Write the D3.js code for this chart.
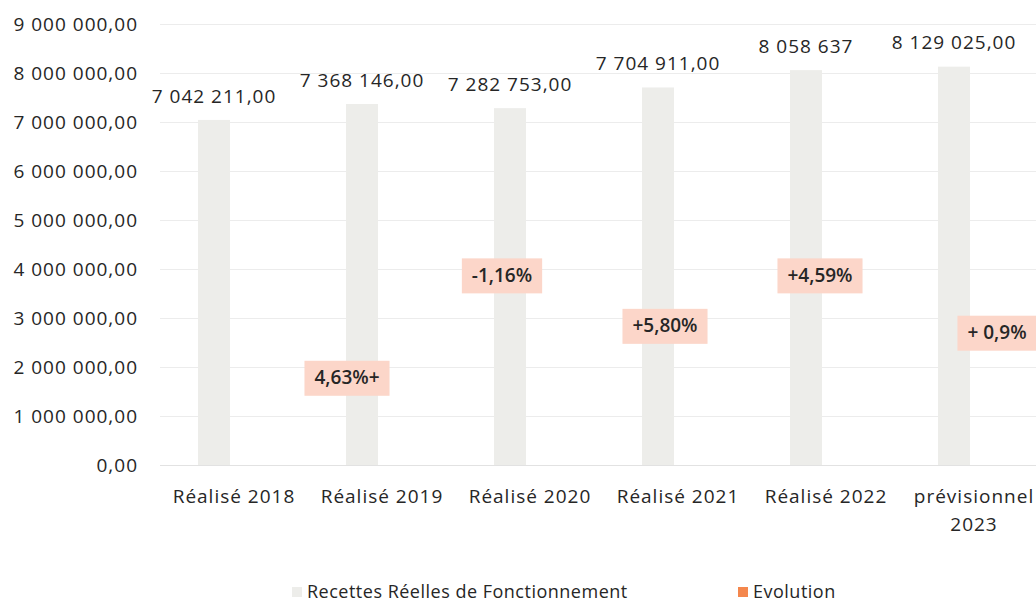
<!DOCTYPE html>
<html lang="fr">
<head>
    <meta charset="UTF-8">
    <title>Recettes Réelles de Fonctionnement</title>
    <script src="https://d3js.org/d3.v7.min.js"></script>
    <style>
        body { margin: 0; background: #fff; font-family: 'Open Sans', sans-serif; }
        text { fill: #262626; }
        .big { font-size: 19px; letter-spacing: 1px; }
    </style>
</head>
<body>
    <svg width="1036" height="603"></svg>
    <script>
        // data
        const categories = ["Réalisé 2018", "Réalisé 2019", "Réalisé 2020", "Réalisé 2021", "Réalisé 2022", "prévisionnel 2023"];
        const recettes = [7042211, 7368146, 7282753, 7704911, 8058637, 8129025];
        const recettesLabels = ["7 042 211,00", "7 368 146,00", "7 282 753,00", "7 704 911,00", "8 058 637", "8 129 025,00"];
        const evolution = [null, 4.63, -1.16, 5.80, 4.59, 0.9];
        const evolutionLabels = ["", "4,63%+", "-1,16%", "+5,80%", "+4,59%", "+ 0,9%"];
        const yTicks = [0, 1e6, 2e6, 3e6, 4e6, 5e6, 6e6, 7e6, 8e6, 9e6];

        // where the evolution labels were dragged to (left-axis units, x shift in px)
        const evoLabelAt = [null, 1.78e6, 3.87e6, 2.84e6, 3.87e6, 2.70e6];
        const evoLabelDx = [0, -55, -48, -33, -26, 3];

        const width = 1036, height = 603;
        const svg = d3.select("svg");

        const x = d3.scaleBand().domain(categories).range([160, 1048]);
        const sub = d3.scaleBand().domain(["rrf", "evo"]).range([0, x.step()])
            .paddingInner(0.2).paddingOuter(0.95);
        const y = d3.scaleLinear().domain([0, 9e6]).range([465, 24]);

        const fmt = v => d3.format(",.2f")(v).replace(/,/g, " ").replace(".", ",");

        // grid
        svg.append("g").selectAll("line")
            .data(yTicks).enter().append("line")
            .attr("x1", 160).attr("x2", width)
            .attr("y1", d => Math.round(y(d)) + 0.5).attr("y2", d => Math.round(y(d)) + 0.5)
            .attr("stroke", d => d === 0 ? "#e2e2e2" : "#ececec").attr("stroke-width", 1);

        // y axis labels
        svg.append("g").selectAll("text")
            .data(yTicks).enter().append("text")
            .attr("class", "big")
            .attr("x", 138).attr("y", d => y(d)).attr("dy", "0.35em")
            .attr("text-anchor", "end")
            .text(fmt);

        // bars
        svg.append("g").selectAll("rect")
            .data(recettes).enter().append("rect")
            .attr("x", (d, i) => x(categories[i]) + sub("rrf"))
            .attr("width", sub.bandwidth())
            .attr("y", d => y(d))
            .attr("height", d => y(0) - y(d))
            .attr("fill", "#ededea");

        // value labels
        svg.append("g").selectAll("text")
            .data(recettes).enter().append("text")
            .attr("class", "big")
            .attr("x", (d, i) => x(categories[i]) + sub("rrf") + sub.bandwidth() / 2)
            .attr("y", d => y(d) - 24).attr("dy", "0.35em")
            .attr("text-anchor", "middle")
            .text((d, i) => recettesLabels[i]);

        // evolution labels (pink boxes)
        const evo = svg.append("g").selectAll("g")
            .data(evolution.map((v, i) => ({ v, i })).filter(d => d.v !== null))
            .enter().append("g")
            .attr("transform", d => `translate(${x(categories[d.i]) + sub("evo") + sub.bandwidth() / 2 + evoLabelDx[d.i]},${y(evoLabelAt[d.i])})`);
        evo.append("text")
            .attr("text-anchor", "middle").attr("dy", "0.35em")
            .style("font-size", "19px").style("font-weight", 600)
            .text(d => evolutionLabels[d.i]);
        evo.each(function () {
            const g = d3.select(this);
            const b = g.select("text").node().getBBox();
            g.insert("rect", "text")
                .attr("x", b.x - 10).attr("y", -17)
                .attr("width", b.width + 20).attr("height", 35)
                .attr("fill", "#fcd6c9");
        });

        // x labels
        const xl = svg.append("g").selectAll("text")
            .data(categories).enter().append("text")
            .attr("class", "big")
            .attr("x", d => x(d) + x.bandwidth() / 2)
            .attr("y", 496)
            .attr("text-anchor", "middle");
        xl.each(function (d) {
            const t = d3.select(this);
            const parts = d.startsWith("prévisionnel") ? ["prévisionnel", "2023"] : [d];
            parts.forEach((p, k) => t.append("tspan").attr("x", x(d) + x.bandwidth() / 2).attr("dy", k ? "1.5em" : "0.35em").text(p));
        });

        // legend
        const legend = svg.append("g").attr("transform", "translate(0,592)");
        const items = [
            { label: "Recettes Réelles de Fonctionnement", color: "#ededea", x: 292 },
            { label: "Evolution", color: "#f4874d", x: 738 }
        ];
        items.forEach(it => {
            legend.append("rect").attr("x", it.x).attr("y", -5).attr("width", 10).attr("height", 10).attr("fill", it.color);
            legend.append("text").attr("x", it.x + 15).attr("dy", "0.35em")
                .style("font-size", "18px").style("letter-spacing", "0.5px").text(it.label);
        });
    </script>
</body>
</html>
